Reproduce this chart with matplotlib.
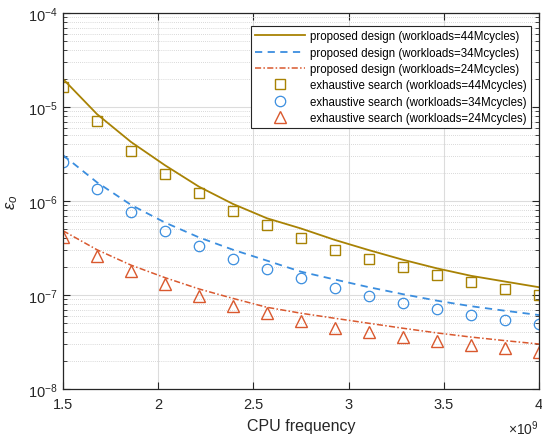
import matplotlib.pyplot as plt
import numpy as np
from matplotlib.ticker import LogLocator, NullFormatter

plt.rcParams['font.family'] = ['Liberation Sans', 'DejaVu Sans']
plt.rcParams['mathtext.fontset'] = 'custom'
plt.rcParams['mathtext.rm'] = 'Liberation Sans'
plt.rcParams['mathtext.it'] = 'Liberation Sans:italic'

# CPU frequency (x 1e9)
freq = [1.5, 1.6786, 1.8571, 2.0357, 2.2143, 2.3929, 2.5714, 2.75,
        2.9286, 3.1071, 3.2857, 3.4643, 3.6429, 3.8214, 4.0]

# proposed design
prop44 = [1.99e-5, 8.4e-6, 4.25e-6, 2.4e-6, 1.42e-6, 9.3e-7, 6.55e-7, 5.1e-7,
          3.85e-7, 3.0e-7, 2.37e-7, 1.92e-7, 1.6e-7, 1.39e-7, 1.21e-7]
prop34 = [3.08e-6, 1.58e-6, 9.1e-7, 5.9e-7, 4.1e-7, 3.03e-7, 2.32e-7, 1.77e-7,
          1.46e-7, 1.21e-7, 1.02e-7, 8.7e-8, 7.6e-8, 6.8e-8, 6.12e-8]
prop24 = [4.83e-7, 3.03e-7, 2.08e-7, 1.53e-7, 1.16e-7, 9.2e-8, 7.4e-8, 6.4e-8,
          5.65e-8, 5.0e-8, 4.43e-8, 3.95e-8, 3.57e-8, 3.27e-8, 3.01e-8]

# exhaustive search
exh44 = [1.63e-5, 7.1e-6, 3.4e-6, 1.94e-6, 1.23e-6, 7.9e-7, 5.5e-7, 4.0e-7,
         3.03e-7, 2.42e-7, 1.97e-7, 1.64e-7, 1.36e-7, 1.16e-7, 1.0e-7]
exh34 = [2.58e-6, 1.34e-6, 7.7e-7, 4.83e-7, 3.34e-7, 2.42e-7, 1.88e-7, 1.5e-7,
         1.2e-7, 9.8e-8, 8.2e-8, 7.1e-8, 6.18e-8, 5.47e-8, 4.88e-8]
exh24 = [4.1e-7, 2.58e-7, 1.82e-7, 1.31e-7, 9.8e-8, 7.7e-8, 6.5e-8, 5.3e-8,
         4.5e-8, 4.0e-8, 3.55e-8, 3.22e-8, 2.94e-8, 2.71e-8, 2.49e-8]

gold = '#A88204'
blue = '#3B8EDF'
red = '#D9582E'

fig = plt.figure(figsize=(5.42, 4.39), dpi=100)
ax = fig.add_axes([0.1162, 0.1116, 0.8783, 0.8565])

ax.plot(freq, prop44, '-', color=gold, lw=1.3,
        label='proposed design (workloads=44Mcycles)')
ax.plot(freq, prop34, '--', color=blue, lw=1.3, dashes=(4, 3),
        label='proposed design (workloads=34Mcycles)')
ax.plot(freq, prop24, '-.', color=red, lw=1.1, dashes=(4, 1.5, 1, 1.5),
        label='proposed design (workloads=24Mcycles)')
ax.plot(freq, exh44, 's', mfc='none', mec=gold, ms=6.5, mew=1.0, ls='none',
        label='exhaustive search (workloads=44Mcycles)')
ax.plot(freq, exh34, 'o', mfc='none', mec=blue, ms=7.5, mew=0.9, ls='none',
        label='exhaustive search (workloads=34Mcycles)')
ax.plot(freq, exh24, '^', mfc='none', mec=red, ms=8, mew=1.0, ls='none',
        label='exhaustive search (workloads=24Mcycles)')

ax.set_yscale('log')
ax.set_xlim(1.5, 4.0)
ax.set_ylim(1e-8, 1e-4)
ax.set_xticks([1.5, 2, 2.5, 3, 3.5, 4])
ax.set_xticklabels(['1.5', '2', '2.5', '3', '3.5', '4'])
ax.yaxis.set_major_locator(LogLocator(base=10, numticks=10))
ax.yaxis.set_minor_locator(LogLocator(base=10, subs=np.arange(2, 10), numticks=20))
ax.yaxis.set_minor_formatter(NullFormatter())

ax.grid(True, which='major', color='#dcdcdc', lw=0.8, ls='-')
ax.grid(True, which='minor', axis='y', color='#cccccc', lw=0.6, ls=(0, (1, 1.5)))
ax.set_axisbelow(True)

ax.tick_params(which='both', direction='in', top=True, right=True, labelsize=10.5,
               colors='#262626')
ax.tick_params(which='major', length=5, width=0.8)
ax.tick_params(which='minor', length=3, width=0.6)
ax.tick_params(axis='x', pad=6)
for s in ax.spines.values():
    s.set_color('#262626')
    s.set_linewidth(0.9)

ax.set_xlabel('CPU frequency', fontsize=11.5, color='#262626', labelpad=5)
ax.set_ylabel(r'$\epsilon_o$', fontsize=12, color='#262626', labelpad=6)
ax.text(1.0, -0.078, r'$\times 10^9$', transform=ax.transAxes, ha='right', va='top',
        fontsize=10, color='#262626')

leg = ax.legend(loc='upper right', bbox_to_anchor=(0.983, 0.965), fontsize=8.3,
                frameon=True, fancybox=False, edgecolor='#262626', framealpha=1,
                borderpad=0.35, labelspacing=0.38, handlelength=4.3,
                handletextpad=0.5, borderaxespad=0)
leg.get_frame().set_linewidth(0.8)

fig.savefig('out.png', dpi=100)
